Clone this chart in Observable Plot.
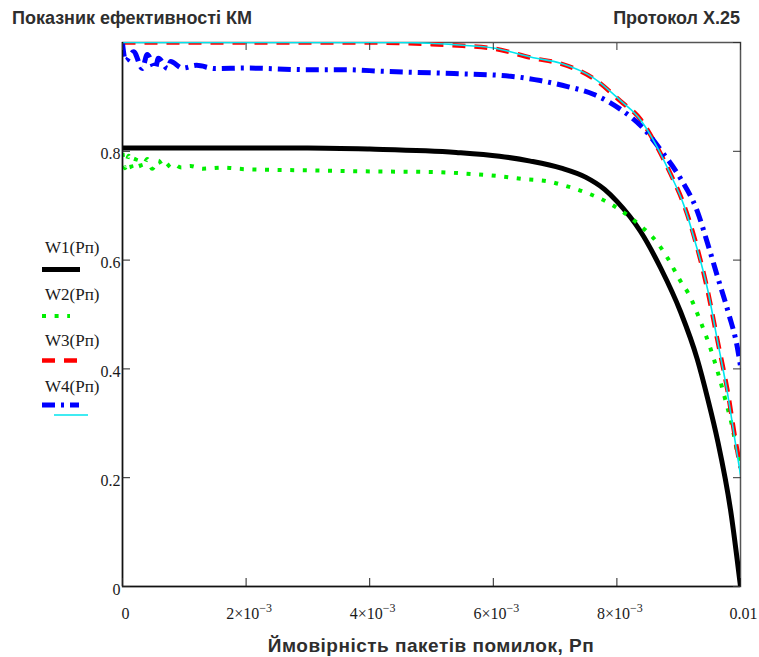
<!DOCTYPE html>
<html>
<head>
<meta charset="utf-8">
<script src="https://cdn.jsdelivr.net/npm/d3@7"></script>
<script src="https://cdn.jsdelivr.net/npm/@observablehq/plot@0.6"></script>
<style>
  html, body { margin: 0; padding: 0; background: #fff; }
  #wrap { position: relative; width: 759px; height: 657px; overflow: hidden; background: #fff; }
  #header { position: relative; height: 30px; font-family: "Liberation Sans", Arial, sans-serif; font-weight: bold; font-size: 18px; color: #2e2e2e; }
  #title { position: absolute; left: 12px; top: 9px; line-height: 18px; }
  #proto { position: absolute; right: 19px; top: 9px; line-height: 18px; }
  #chart { position: relative; height: 595px; }
  #footer { height: 32px; margin-left: 122px; width: 618px; text-align: center; font-family: "Liberation Sans", Arial, sans-serif; font-weight: bold; font-size: 19px; letter-spacing: 0.5px; color: #2e2e2e; line-height: 18px; padding-top: 12px; box-sizing: border-box; white-space: nowrap; }
  #legend { position: absolute; left: 0; top: 0; width: 122px; height: 657px; pointer-events: none; }
</style>
</head>
<body>
<div id="wrap">
  <div id="header"><span id="title">Показник ефективності КМ</span><span id="proto">Протокол X.25</span></div>
  <div id="chart"></div>
  <div id="footer">Ймовірність пакетів помилок, Рп</div>
  <svg id="legend" width="122" height="657" xmlns="http://www.w3.org/2000/svg"></svg>
</div>
<script>
// ---- data ----
const seriesNames = ["W1(Рп)", "W2(Рп)", "W3(Рп)", "W4(Рп)"];

const w1P = [0, 0.001, 0.002, 0.003, 0.004, 0.0054, 0.0061, 0.0066, 0.0071, 0.0075, 0.0078, 0.008, 0.00838, 0.00871, 0.00903, 0.0093, 0.00947, 0.00963, 0.00984, 0.01];
const w1V = [0.806, 0.806, 0.806, 0.806, 0.804, 0.798, 0.791, 0.782, 0.769, 0.752, 0.730, 0.708, 0.653, 0.585, 0.505, 0.418, 0.345, 0.268, 0.140, 0];

const w2P = [0, 0.00004, 0.0001, 0.00016, 0.00024, 0.00032, 0.0004, 0.00048, 0.00058, 0.00068, 0.0008, 0.00095, 0.0011, 0.0013, 0.0016, 0.002, 0.003, 0.004, 0.005, 0.00568, 0.00612, 0.00649, 0.00688, 0.00709, 0.00757, 0.0079, 0.00833, 0.00866, 0.00883, 0.00903, 0.00916, 0.00935, 0.00951, 0.00964, 0.00976, 0.00987, 0.00995, 0.01];
const w2V = [0.797, 0.769, 0.792, 0.768, 0.790, 0.769, 0.786, 0.768, 0.783, 0.769, 0.778, 0.770, 0.773, 0.768, 0.770, 0.767, 0.765, 0.763, 0.762, 0.758, 0.754, 0.749, 0.745, 0.739, 0.721, 0.703, 0.668, 0.631, 0.602, 0.561, 0.538, 0.488, 0.439, 0.391, 0.341, 0.292, 0.246, 0.232];

const w3P = [0, 0.004, 0.005, 0.0055, 0.006, 0.00665, 0.00709, 0.00762, 0.00806, 0.00838, 0.00866, 0.00887, 0.00908, 0.00927, 0.00947, 0.00963, 0.00979, 0.00992, 0.01];
const w3V = [1.0, 1.0, 0.997, 0.994, 0.989, 0.971, 0.961, 0.934, 0.892, 0.859, 0.806, 0.758, 0.703, 0.635, 0.543, 0.451, 0.360, 0.268, 0.218];

const w4P = [0, 0.00005, 0.00018, 0.00032, 0.0004, 0.00053, 0.00058, 0.00073, 0.00078, 0.00097, 0.0012, 0.0015, 0.002, 0.003, 0.0036, 0.00422, 0.00536, 0.00628, 0.00676, 0.0072, 0.00762, 0.00806, 0.00843, 0.00875, 0.00903, 0.0093, 0.00948, 0.00964, 0.00981, 0.00995, 0.01];
const w4V = [0.998, 0.966, 0.983, 0.952, 0.978, 0.952, 0.971, 0.952, 0.965, 0.953, 0.958, 0.952, 0.953, 0.950, 0.950, 0.947, 0.943, 0.938, 0.930, 0.919, 0.905, 0.877, 0.842, 0.796, 0.750, 0.690, 0.626, 0.565, 0.501, 0.439, 0.405];

const w5P = [0, 0.0045, 0.0055, 0.006, 0.00665, 0.00709, 0.00762, 0.00806, 0.00838, 0.00866, 0.00887, 0.00908, 0.00927, 0.00947, 0.00963, 0.00979, 0.00992, 0.01];
const w5V = [1.0, 1.0, 0.995, 0.990, 0.972, 0.962, 0.935, 0.893, 0.858, 0.806, 0.757, 0.702, 0.632, 0.545, 0.450, 0.355, 0.262, 0.205];

const xTicks = [0, 0.002, 0.004, 0.006, 0.008, 0.01];
const xTickLabels = ["0", "2×10^-3", "4×10^-3", "6×10^-3", "8×10^-3", "0.01"];
const yTicks = [0, 0.2, 0.4, 0.6, 0.8];
const yTickLabels = ["0", "0.2", "0.4", "0.6", "0.8"];
const yFrameTicks = [0, 0.2, 0.4, 0.6, 0.8, 1];

// ---- build ----
const toRows = (P, V) => P.map((p, i) => ({p, w: V[i]}));
const w1 = toRows(w1P, w1V), w2 = toRows(w2P, w2V), w3 = toRows(w3P, w3V), w4 = toRows(w4P, w4V), w5 = toRows(w5P, w5V);
const xLab = new Map(xTicks.map((t, i) => [t, xTickLabels[i]]));
const yLab = new Map(yTicks.map((t, i) => [t, yTickLabels[i]]));

const styles = {
  w1: {stroke: "#000000", strokeWidth: 5},
  w2: {stroke: "#00ee00", strokeWidth: 4, strokeDasharray: "4,8.6", strokeLinecap: "butt"},
  w3: {stroke: "#ff0000", strokeWidth: 4.5, strokeDasharray: "13,9", strokeLinecap: "butt"},
  w4: {stroke: "#0000ff", strokeWidth: 5, strokeDasharray: "13,6,3,6", strokeLinecap: "butt"},
  w5: {stroke: "#00e5ee", strokeWidth: 1.6}
};

const chart = Plot.plot({
  width: 759,
  height: 595,
  marginTop: 12,
  marginBottom: 39,
  marginLeft: 122,
  marginRight: 19,
  x: {domain: [0, 0.01], label: null},
  y: {domain: [0, 1], label: null},
  style: {fontFamily: "'Liberation Serif', 'Times New Roman', serif", fontSize: "16px", color: "#1a1a1a", background: "#fff"},
  marks: [
    Plot.frame({stroke: "#555", strokeWidth: 1.5}),
    Plot.line(w1, {x: "p", y: "w", curve: "monotone-x", clip: true, ...styles.w1}),
    Plot.line(w2, {x: "p", y: "w", curve: "monotone-x", clip: true, ...styles.w2}),
    Plot.line(w3, {x: "p", y: "w", curve: "monotone-x", clip: true, ...styles.w3}),
    Plot.line(w4, {x: "p", y: "w", curve: "monotone-x", clip: true, ...styles.w4}),
    Plot.line(w5, {x: "p", y: "w", curve: "monotone-x", clip: true, ...styles.w5}),
    Plot.ruleX([0], {stroke: "#111", strokeWidth: 1.5}),
    Plot.ruleY([0], {stroke: "#111", strokeWidth: 1.5}),
    Plot.axisX(xTicks, {anchor: "bottom", tickSize: -8, tickFormat: () => "", stroke: "#222", label: null}),
    Plot.axisX(xTicks, {anchor: "bottom", tickSize: 0, tickPadding: 21, dx: 3, tickFormat: d => xLab.get(d), label: null}),
    Plot.axisX(xTicks, {anchor: "top", tickSize: -7, tickFormat: () => "", stroke: "#333", label: null}),
    Plot.axisY(yTicks, {anchor: "left", tickSize: -8, tickFormat: () => "", stroke: "#222", label: null}),
    Plot.axisY(yTicks, {anchor: "left", tickSize: 0, tickPadding: 2, dy: 3, tickFormat: d => yLab.get(d), label: null}),
    Plot.axisY(yFrameTicks, {anchor: "right", tickSize: -8, tickFormat: () => "", stroke: "#333", label: null})
  ]
});
document.getElementById("chart").appendChild(chart);

// superscripts for x tick labels
chart.querySelectorAll("text").forEach(t => {
  const s = t.textContent;
  if (s.includes("^")) {
    const [base, exp] = s.split("^");
    t.textContent = base;
    const ts = document.createElementNS("http://www.w3.org/2000/svg", "tspan");
    ts.setAttribute("dy", "-7");
    ts.setAttribute("font-size", "12");
    ts.textContent = exp.replace("-", "−");
    t.appendChild(ts);
  }
});

// legend (Mathcad-like trace names at the left)
const lg = d3.select("#legend");
const legendRows = [
  {name: seriesNames[0], ty: 253, sy: 269.5, x2: 80, st: styles.w1},
  {name: seriesNames[1], ty: 299.5, sy: 316, x2: 70, st: styles.w2},
  {name: seriesNames[2], ty: 345.5, sy: 360.5, x2: 77, st: styles.w3},
  {name: seriesNames[3], ty: 391.5, sy: 405, x2: 79, st: styles.w4}
];
legendRows.forEach(r => {
  lg.append("text").attr("x", 45).attr("y", r.ty)
    .attr("font-family", "'Liberation Serif', 'Times New Roman', serif").attr("font-size", 17).attr("fill", "#1a1a1a")
    .text(r.name);
  lg.append("line").attr("x1", 42).attr("x2", r.x2).attr("y1", r.sy).attr("y2", r.sy)
    .attr("stroke", r.st.stroke).attr("stroke-width", r.st.strokeWidth)
    .attr("stroke-dasharray", r.st.strokeDasharray || null);
});
lg.append("line").attr("x1", 54).attr("x2", 88).attr("y1", 415).attr("y2", 415)
  .attr("stroke", styles.w5.stroke).attr("stroke-width", styles.w5.strokeWidth);
</script>
</body>
</html>
